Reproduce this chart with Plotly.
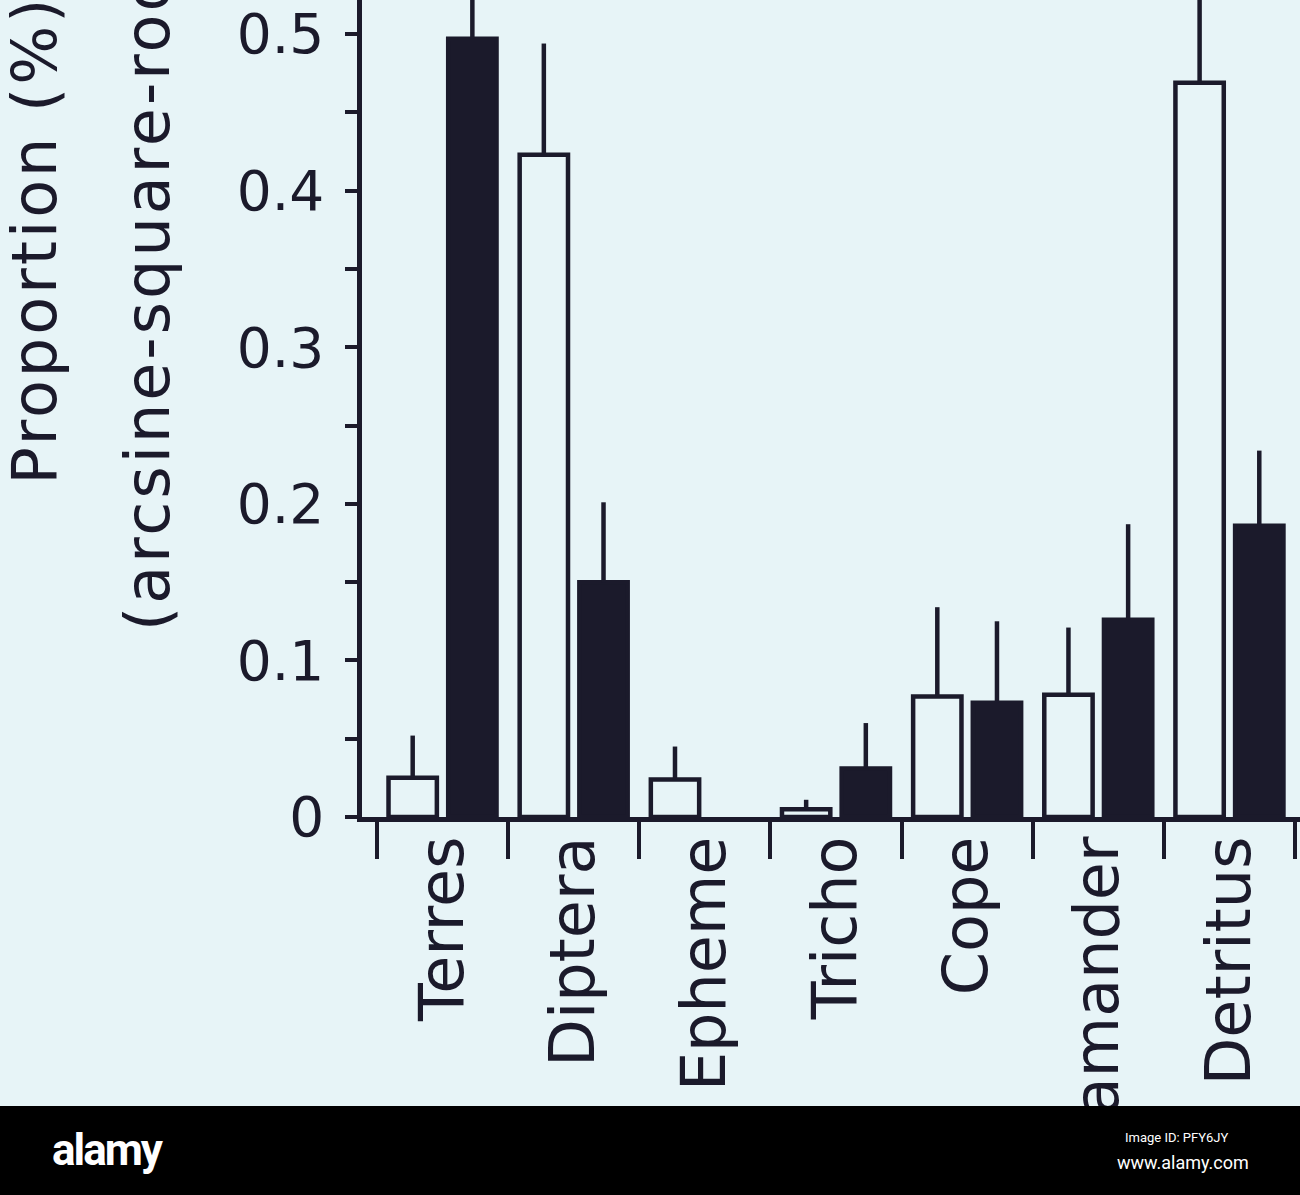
import plotly.graph_objects as go

# ---- data ----
categories = ["Terres", "Diptera", "Epheme", "Tricho", "Cope", "Salamander", "Detritus"]
open_vals = [0.025, 0.423, 0.024, 0.005, 0.077, 0.078, 0.469]
open_err = [0.027, 0.071, 0.021, 0.006, 0.057, 0.043, 0.070]
filled_vals = [0.497, 0.150, 0.0, 0.031, 0.073, 0.126, 0.186]
filled_err = [0.060, 0.051, 0.0, 0.029, 0.052, 0.061, 0.048]
y_title_1 = "Proportion (%)"
y_title_2 = "(arcsine-square-root transformed)"

# ---- styling ----
BG = "#e7f4f7"
INK = "#1b1a2b"
FONT = "DejaVu Sans"
W, H = 1300, 1195
L, R, T, B = 362, 0, 0, 378
PW, PH = W - L - R, H - T - B
EDGE = 4.5


def px_x(px):
    return (px - L) / PW


def px_y(py):
    return (H - B - py) / PH


def spaced(s, sp):
    return f'<span style="letter-spacing:{sp}px">{s}</span>'


def edges(vals):
    # no outline for empty (zero-height) bars
    return [EDGE if v > 0 else 0 for v in vals]


fig = go.Figure()
fig.add_trace(go.Bar(
    x=categories, y=open_vals, name="open",
    marker=dict(color=BG, line=dict(color=INK, width=edges(open_vals))),
    error_y=dict(type="data", array=open_err, arrayminus=[0] * len(open_err),
                 symmetric=False, color=INK, thickness=4.5, width=0),
))
fig.add_trace(go.Bar(
    x=categories, y=filled_vals, name="filled",
    marker=dict(color=INK, line=dict(color=INK, width=edges(filled_vals))),
    error_y=dict(type="data", array=filled_err, arrayminus=[0] * len(filled_err),
                 symmetric=False, color=INK, thickness=4.5, width=0),
))

fig.update_layout(
    width=W, height=H,
    margin=dict(l=L, r=R, t=T, b=B, pad=0, autoexpand=False),
    paper_bgcolor=BG, plot_bgcolor=BG,
    barmode="group", bargap=0.09, bargroupgap=0.19,
    showlegend=False,
    font=dict(family=FONT, color=INK),
)

fig.update_xaxes(
    type="category",
    range=[-0.614, 6.538],
    tickson="boundaries",
    ticks="outside", ticklen=37, tickwidth=3.5, tickcolor=INK,
    showline=True, linewidth=4.5, linecolor=INK,
    showgrid=False, zeroline=False,
    tickangle=-90,
    tickfont=dict(family=FONT, size=62, color=INK),
    ticklabelstandoff=-10,
    automargin=False,
)

fig.update_yaxes(
    range=[0, 0.5218],
    dtick=0.1, tick0=0,
    ticks="outside", ticklen=12, tickwidth=3.5, tickcolor=INK,
    minor=dict(dtick=0.05, ticks="outside", ticklen=12, tickwidth=3.5, tickcolor=INK, showgrid=False),
    showline=True, linewidth=4.5, linecolor=INK,
    showgrid=False, zeroline=False,
    tickfont=dict(family=FONT, size=55, color=INK),
    ticklabelstandoff=10,
    automargin=False,
)

# two-line rotated y-axis title
fig.add_annotation(text=spaced(y_title_1, 3), xref="paper", yref="paper",
                   x=px_x(34), y=px_y(487), xanchor="center", yanchor="bottom",
                   textangle=-90, showarrow=False,
                   font=dict(family=FONT, size=62, color=INK))
fig.add_annotation(text=spaced(y_title_2, 3), xref="paper", yref="paper",
                   x=px_x(147), y=px_y(633), xanchor="center", yanchor="bottom",
                   textangle=-90, showarrow=False,
                   font=dict(family=FONT, size=62, color=INK))

# black band at the bottom of the picture
fig.add_shape(type="rect", xref="paper", yref="paper",
              x0=-1, x1=2, y0=px_y(1106), y1=px_y(1300),
              fillcolor="#000000", line=dict(width=0), layer="above")
fig.add_annotation(text=spaced("<b>alamy</b>", -2), xref="paper", yref="paper",
                   x=px_x(50), y=px_y(1150), xanchor="left", yanchor="middle",
                   showarrow=False,
                   font=dict(family="Liberation Sans Narrow, Roboto, sans-serif", size=44, color="#ffffff"))
fig.add_annotation(text="Image ID: PFY6JY", xref="paper", yref="paper",
                   x=px_x(1231), y=px_y(1137), xanchor="right", yanchor="middle",
                   showarrow=False,
                   font=dict(family="Liberation Sans Narrow, Roboto, sans-serif", size=13, color="#ffffff"))
fig.add_annotation(text="www.alamy.com", xref="paper", yref="paper",
                   x=px_x(1251), y=px_y(1162), xanchor="right", yanchor="middle",
                   showarrow=False,
                   font=dict(family="Liberation Sans Narrow, Roboto, sans-serif", size=18, color="#ffffff"))

fig.write_html("out.html")
